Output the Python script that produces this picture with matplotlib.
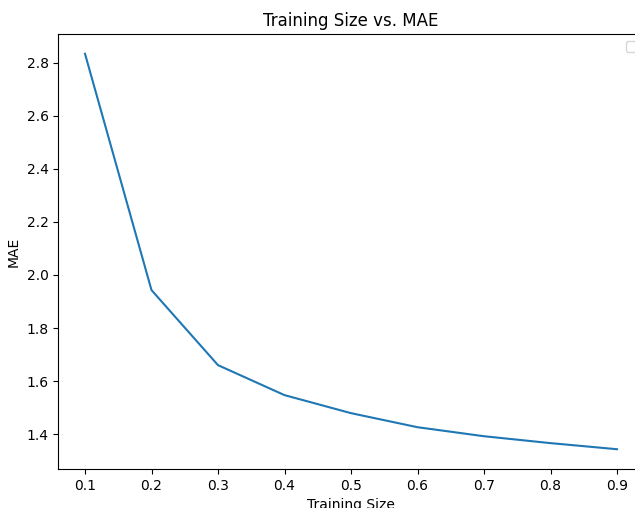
import matplotlib
matplotlib.use("Agg")
import matplotlib.pyplot as plt

# training fraction vs mean absolute error
train_sizes = [0.1, 0.2, 0.3, 0.4, 0.5, 0.6, 0.7, 0.8, 0.9]
mae_values = [2.834, 1.943, 1.660, 1.547, 1.479, 1.426, 1.392, 1.366, 1.343]

fig = plt.figure(figsize=(6.35, 5.08), dpi=100)
ax = fig.add_axes([58.4 / 635, 39 / 508, 585.2 / 635, 435 / 508])

ax.plot(train_sizes, mae_values)
ax.set_title('Training Size vs. MAE')
ax.set_xlabel('Training Size')
ax.set_ylabel('MAE')
ax.set_xticks([0.1, 0.2, 0.3, 0.4, 0.5, 0.6, 0.7, 0.8, 0.9])
ax.legend(handles=[], loc='upper right')

fig.savefig('out.png', dpi=100)
